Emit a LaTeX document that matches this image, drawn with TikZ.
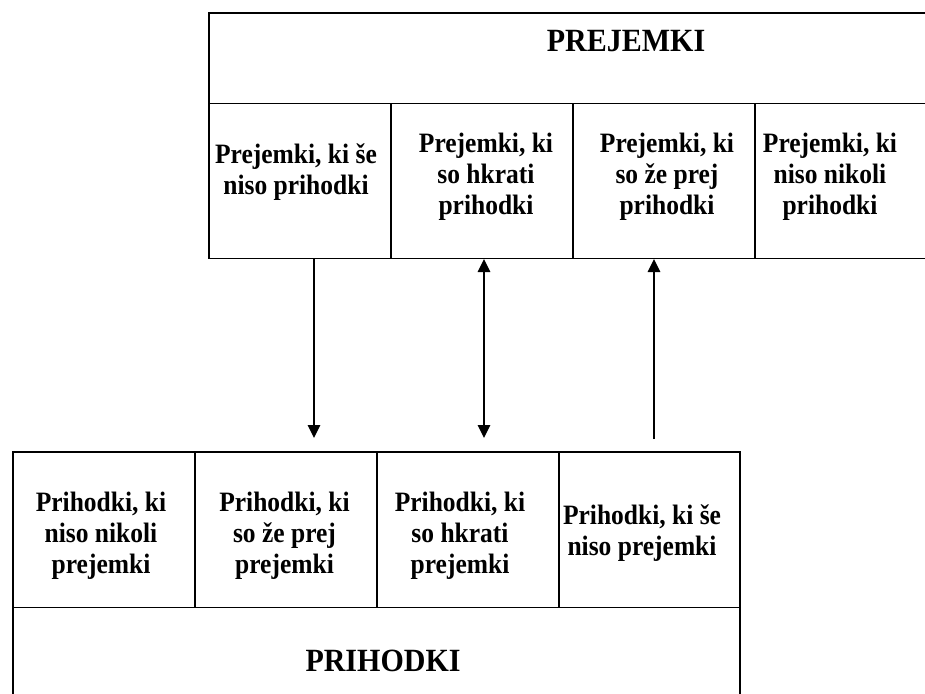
\documentclass[tikz,border=0pt]{standalone}
\usepackage{graphicx}
\usepackage{fontspec}
\setmainfont{Liberation Serif}
\usetikzlibrary{arrows.meta}
% tall bold lines, stacked and centred
\newcommand{\tallstack}[1]{\scalebox{1}[1.1]{\begin{tabular}{@{}c@{}}#1\end{tabular}}}
\newcommand{\talltitle}[1]{\scalebox{1}[1.08]{#1}}
\begin{document}
\begin{tikzpicture}[x=1pt,y=-1pt,
  frame/.style={draw,line width=1.9pt,inner sep=0pt,anchor=north west},
  cell/.style={frame,minimum width=182pt,minimum height=155pt},
  celltext/.style={inner sep=0pt,font=\bfseries\fontsize{25.5}{28.2}\selectfont},
  headtext/.style={anchor=base,inner sep=0pt,font=\bfseries\fontsize{30}{36}\selectfont},
  link/.style={line width=1.5pt},
  >={Triangle[length=13pt,width=12.5pt]}
]
\useasboundingbox (0,0) rectangle (925,693);
\clip (0,0) rectangle (925,693);

% upper block: receipts
\node[frame,minimum width=728pt,minimum height=90pt] (rhead) at (208,12.5) {};
\node[cell] (r1) at (208,102.5) {};
\node[cell] (r2) at (390,102.5) {};
\node[cell] (r3) at (572,102.5) {};
\node[cell] (r4) at (754,102.5) {};
\node[headtext] (rtitle) at (626,52) {\talltitle{PREJEMKI}};
\node[celltext] (rt1) at (296,172.5) {\tallstack{Prejemki, ki še\\niso prihodki}};
\node[celltext] (rt2) at (486,177) {\tallstack{Prejemki, ki\\so hkrati\\prihodki}};
\node[celltext] (rt3) at (667,177) {\tallstack{Prejemki, ki\\so že prej\\prihodki}};
\node[celltext] (rt4) at (830,177) {\tallstack{Prejemki, ki\\niso nikoli\\prihodki}};

% lower block: revenues
\node[cell,minimum height=155.5pt] (i1) at (12,451) {};
\node[cell,minimum height=155.5pt] (i2) at (194,451) {};
\node[cell,minimum height=155.5pt] (i3) at (376,451) {};
\node[cell,minimum height=155.5pt,minimum width=181pt] (i4) at (558,451) {};
\node[frame,minimum width=727pt,minimum height=150pt] (ihead) at (12,606.5) {};
\node[headtext] (ititle) at (383,671) {\talltitle{PRIHODKI}};
\node[celltext] (it1) at (101,536.5) {\tallstack{Prihodki, ki\\niso nikoli\\prejemki}};
\node[celltext] (it2) at (284.5,536.5) {\tallstack{Prihodki, ki\\so že prej\\prejemki}};
\node[celltext] (it3) at (460,536.5) {\tallstack{Prihodki, ki\\so hkrati\\prejemki}};
\node[celltext] (it4) at (642,533.5) {\tallstack{Prihodki, ki še\\niso prejemki}};

% connectors between the blocks
\coordinate (a1s) at (314,258);
\coordinate (a1e) at (314,438);
\coordinate (a2s) at (484,259);
\coordinate (a2e) at (484,438);
\coordinate (a3s) at (654,439);
\coordinate (a3e) at (654,259);
\draw[link,->] (a1s) -- (a1e);
\draw[link,<->] (a2s) -- (a2e);
\draw[link,->] (a3s) -- (a3e);
\end{tikzpicture}
\end{document}
